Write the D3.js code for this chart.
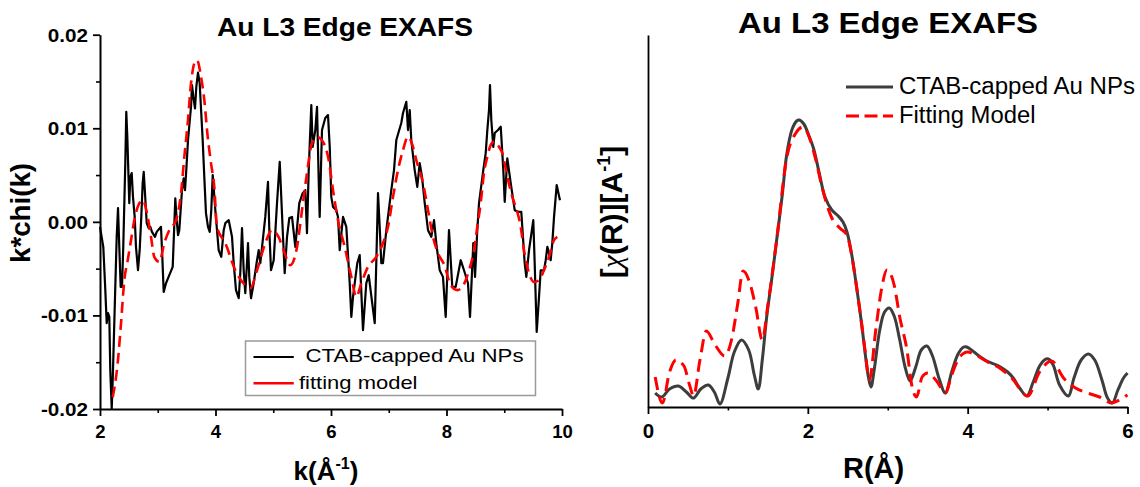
<!DOCTYPE html>
<html><head><meta charset="utf-8">
<script src="https://cdn.jsdelivr.net/npm/d3@7"></script>
<style>
body{margin:0;background:#fff}
svg{display:block}
text{font-family:"Liberation Sans",Arial,sans-serif;fill:#000}
</style>
</head><body>
<svg id="c" width="1140" height="487"></svg>
<script>
// ---------- Left panel: k*chi(k) ----------
const kData = [2.000,2.057,2.092,2.116,2.139,2.161,2.178,2.203,2.220,2.260,2.289,2.312,2.334,2.358,2.381,2.403,2.438,2.455,2.473,2.507,2.525,2.549,2.571,2.601,2.623,2.658,2.687,2.715,2.739,2.757,2.779,2.809,2.843,2.871,2.900,2.952,2.982,3.056,3.079,3.103,3.143,3.200,3.259,3.304,3.328,3.351,3.373,3.420,3.449,3.472,3.494,3.524,3.576,3.593,3.616,3.645,3.668,3.697,3.726,3.778,3.806,3.835,3.870,3.900,3.927,3.952,3.997,4.055,4.100,4.142,4.170,4.229,4.286,4.315,4.355,4.402,4.429,4.459,4.488,4.516,4.545,4.563,4.585,4.615,4.661,4.719,4.748,4.776,4.862,4.909,4.932,4.961,5.008,5.065,5.112,5.164,5.198,5.238,5.278,5.325,5.382,5.451,5.510,5.555,5.584,5.614,5.659,5.683,5.728,5.758,5.787,5.804,5.844,5.901,5.948,5.978,6.005,6.035,6.092,6.121,6.151,6.208,6.265,6.324,6.352,6.381,6.455,6.497,6.554,6.611,6.653,6.757,6.784,6.814,6.843,6.871,6.900,6.958,7.044,7.091,7.131,7.217,7.247,7.304,7.333,7.363,7.390,7.449,7.494,7.536,7.576,7.623,7.680,7.737,7.784,7.823,7.882,7.939,7.986,8.043,8.100,8.159,8.246,8.303,8.372,8.407,8.464,8.494,8.533,8.563,8.637,8.679,8.707,8.736,8.753,8.776,8.810,8.835,8.892,8.939,8.984,9.008,9.053,9.112,9.181,9.238,9.295,9.354,9.382,9.429,9.503,9.527,9.562,9.602,9.631,9.688,9.718,9.746,9.804,9.832,9.862,9.908,9.965];
const chiData = [-0.00053,-0.00267,-0.00730,-0.01083,-0.00976,-0.01016,-0.01586,-0.01993,-0.01693,-0.00802,-0.00160,0.00147,-0.00267,-0.00695,-0.00695,-0.00267,0.00628,0.01176,0.00909,0.00200,0.00481,0.00521,0.00267,0.00053,-0.00267,-0.00517,-0.00303,0.00053,0.00414,0.00535,0.00307,-0.00014,-0.00067,-0.00053,-0.00107,-0.00160,-0.00107,-0.00053,-0.00374,-0.00749,-0.00656,-0.00570,-0.00481,0.00250,0.00018,-0.00142,-0.00089,0.00339,0.00464,0.00339,0.00553,0.00874,0.01230,0.01462,0.01337,0.01213,0.01444,0.01594,0.01480,0.00874,0.00481,0.00093,-0.00053,-0.00107,0.00125,0.00499,0.00125,-0.00303,-0.00374,-0.00089,-0.00014,0.00018,-0.00160,-0.00442,-0.00730,-0.00816,-0.00549,-0.00067,-0.00517,-0.00763,-0.00442,-0.00228,-0.00591,-0.00816,-0.00656,-0.00410,-0.00303,-0.00442,0.00053,0.00428,-0.00089,-0.00517,-0.00410,0.00200,0.00642,-0.00089,-0.00549,-0.00164,0.00040,0.00053,-0.00267,0.00200,0.00307,0.00339,-0.00121,0.00553,0.01248,0.00802,0.00981,0.01230,0.00446,0.00053,0.00981,0.01109,0.01141,0.00802,0.00267,0.00160,0.00125,0.00053,-0.00303,0.00053,-0.00053,-0.00656,-0.01016,-0.00802,-0.00442,-0.00356,-0.01158,-0.00656,-0.00570,-0.01083,-0.00442,0.00307,-0.00053,-0.00442,-0.00442,-0.00089,0.00339,0.00553,0.00874,0.01056,0.01163,0.01283,0.00981,0.01195,0.00874,0.00553,0.00374,0.00628,0.00481,0.00200,-0.00089,-0.00160,0.00018,-0.00228,-0.00517,-0.00588,-0.01016,-0.00089,-0.00695,-0.00695,-0.00410,-0.00517,-0.00656,-0.01016,-0.00228,-0.00588,-0.00089,0.00200,0.00553,0.00735,0.00981,0.01195,0.01462,0.01088,0.00802,0.00949,0.00981,0.01016,0.00553,0.00214,0.00678,0.00414,0.00125,0.00107,0.00107,-0.00442,-0.00588,-0.00303,0.00018,-0.00442,-0.01176,-0.00802,-0.00517,-0.00517,-0.00410,-0.00267,-0.00410,-0.00228,0.00053,0.00393,0.00232];
const kFit = [2.220,2.306,2.364,2.421,2.480,2.537,2.594,2.653,2.739,2.826,2.883,2.940,3.027,3.113,3.200,3.316,3.403,3.460,3.519,3.576,3.633,3.680,3.749,3.806,3.865,3.922,3.979,4.026,4.170,4.343,4.516,4.603,4.719,4.862,4.978,5.094,5.180,5.295,5.411,5.498,5.584,5.671,5.758,5.874,5.960,6.035,6.121,6.237,6.352,6.438,6.525,6.641,6.784,6.900,6.987,7.074,7.160,7.247,7.333,7.420,7.477,7.593,7.680,7.766,7.853,7.964,8.073,8.187,8.274,8.390,8.476,8.533,8.592,8.649,8.707,8.765,8.823,8.909,8.966,9.053,9.139,9.226,9.285,9.342,9.429,9.515,9.602,9.688,9.775,9.861,9.919];
const chiFit = [-0.01875,-0.01511,-0.01083,-0.00624,-0.00410,-0.00196,0.00018,0.00160,0.00232,0.00053,-0.00160,-0.00374,-0.00428,-0.00228,-0.00089,0.00018,0.00307,0.00695,0.01056,0.01480,0.01694,0.01729,0.01551,0.01302,0.00909,0.00628,0.00374,-0.00057,-0.00228,-0.00517,-0.00677,-0.00709,-0.00517,-0.00228,-0.00089,-0.00164,-0.00303,-0.00463,-0.00271,0.00125,0.00521,0.00842,0.00909,0.00842,0.00660,0.00339,0.00018,-0.00267,-0.00588,-0.00802,-0.00656,-0.00481,-0.00374,-0.00228,-0.00053,0.00267,0.00553,0.00767,0.00909,0.00802,0.00660,0.00414,0.00125,-0.00160,-0.00335,-0.00463,-0.00677,-0.00730,-0.00695,-0.00517,-0.00303,-0.00053,0.00200,0.00521,0.00695,0.00820,0.00856,0.00802,0.00735,0.00481,0.00267,0.00107,-0.00053,-0.00303,-0.00549,-0.00642,-0.00624,-0.00517,-0.00374,-0.00196,-0.00160];
const leftXTicks = [2,4,6,8,10];
const leftXMinor = [3,5,7,9];
const leftYTicks = [-0.02,-0.01,0,0.01,0.02];
const leftYMinor = [-0.015,-0.005,0.005,0.015];
const leftYLabels = ["-0.02","-0.01","0.00","0.01","0.02"];

// ---------- Right panel: |chi(R)| ----------
const rData = [0.09,0.17,0.27,0.38,0.48,0.57,0.66,0.755,0.83,0.90,1.0,1.08,1.17,1.26,1.33,1.38,1.43,1.485,1.55,1.61,1.68,1.735,1.80,1.86,1.894,1.95,2.01,2.07,2.14,2.215,2.30,2.38,2.44,2.49,2.55,2.61,2.67,2.72,2.76,2.79,2.83,2.90,2.96,3.02,3.08,3.15,3.22,3.28,3.35,3.42,3.49,3.56,3.64,3.72,3.80,3.88,3.95,3.99,4.08,4.16,4.24,4.33,4.41,4.50,4.57,4.65,4.74,4.82,4.90,4.96,5.01,5.07,5.15,5.26,5.33,5.42,5.51,5.59,5.68,5.75,5.81,5.88,5.95,6.00];
const ftData = [0.14,0.10,0.18,0.21,0.15,0.09,0.18,0.22,0.15,0.03,0.29,0.55,0.67,0.57,0.32,0.18,0.47,0.90,1.29,1.67,2.12,2.52,2.77,2.86,2.87,2.83,2.72,2.59,2.35,2.10,1.97,1.91,1.85,1.75,1.52,1.20,0.85,0.52,0.29,0.20,0.37,0.77,0.95,0.99,0.91,0.67,0.39,0.26,0.40,0.57,0.61,0.51,0.29,0.14,0.35,0.53,0.60,0.60,0.55,0.50,0.46,0.43,0.40,0.35,0.29,0.19,0.11,0.25,0.41,0.47,0.48,0.42,0.22,0.11,0.29,0.47,0.53,0.47,0.27,0.09,0.04,0.17,0.29,0.34];
const rFit = [0.09,0.18,0.27,0.35,0.45,0.52,0.57,0.65,0.73,0.84,0.96,1.05,1.12,1.19,1.27,1.35,1.43,1.50,1.61,1.735,1.85,1.94,2.03,2.10,2.18,2.30,2.40,2.49,2.55,2.61,2.67,2.72,2.77,2.85,2.92,2.99,3.08,3.15,3.24,3.30,3.36,3.43,3.50,3.62,3.72,3.80,3.90,4.00,4.10,4.25,4.40,4.55,4.75,4.90,5.05,5.20,5.35,5.50,5.65,5.80,5.90,6.00];
const ftFit = [0.30,0.04,0.35,0.47,0.41,0.22,0.11,0.47,0.76,0.62,0.51,0.69,1.02,1.36,1.25,0.99,0.67,1.02,1.67,2.49,2.74,2.80,2.67,2.47,2.19,1.89,1.79,1.72,1.51,1.20,0.85,0.54,0.27,0.77,1.17,1.37,1.22,0.90,0.57,0.22,0.10,0.30,0.34,0.25,0.14,0.32,0.50,0.55,0.52,0.45,0.39,0.29,0.11,0.35,0.46,0.29,0.19,0.14,0.10,0.04,0.07,0.12];
const rightXTicks = [0,2,4,6];
const rightXMinor = [1,3,5];

const svg = d3.select("#c");
function stretch(sel, f){
  sel.each(function(){
    const L = this.getComputedTextLength();
    this.setAttribute("textLength", (L*f).toFixed(1));
    this.setAttribute("lengthAdjust","spacingAndGlyphs");
  });
}

// ===== LEFT =====
const xL = d3.scaleLinear().domain([2,10]).range([100,562]);
const yL = d3.scaleLinear().domain([-0.02,0.02]).range([409,34.7]);

const gL = svg.append("g");
gL.append("g").attr("transform","translate(0,409)")
  .call(d3.axisBottom(xL).tickValues(leftXMinor).tickSize(4).tickFormat("").tickSizeOuter(0))
  .call(g=>g.select(".domain").remove())
  .selectAll("line").attr("stroke","#000").attr("stroke-width",1.6);
gL.append("g").attr("transform","translate(100,0)")
  .call(d3.axisLeft(yL).tickValues(leftYMinor).tickSize(4).tickFormat("").tickSizeOuter(0))
  .call(g=>g.select(".domain").remove())
  .selectAll("line").attr("stroke","#000").attr("stroke-width",1.6);

const axBL = gL.append("g").attr("transform","translate(0,409)")
  .call(d3.axisBottom(xL).tickValues(leftXTicks).tickSize(7).tickSizeOuter(0).tickFormat(d3.format("d")));
axBL.select(".domain").attr("stroke-width",2);
axBL.selectAll("line").attr("stroke-width",1.8);
axBL.selectAll("text").attr("y",29).attr("dy",null)
  .style("font-size","18.5px").style("font-weight","bold");

const axLL = gL.append("g").attr("transform","translate(100,0)")
  .call(d3.axisLeft(yL).tickValues(leftYTicks).tickSize(7).tickSizeOuter(0)
    .tickFormat((d,i)=>leftYLabels[i]));
axLL.select(".domain").attr("stroke-width",2);
axLL.selectAll("line").attr("stroke-width",1.8);
axLL.selectAll("text").attr("x",-12).attr("dy","0.36em")
  .style("font-size","17.5px").style("font-weight","bold");
stretch(axLL.selectAll("text"),1.18);

const lineL = d3.line().x((d,i)=>xL(kData[i])).y((d,i)=>yL(chiData[i]));
gL.append("path").datum(chiData).attr("d",lineL)
  .attr("fill","none").attr("stroke","#000").attr("stroke-width",2.2).attr("stroke-linejoin","round");
const fitL = d3.line().x((d,i)=>xL(kFit[i])).y((d,i)=>yL(chiFit[i])).curve(d3.curveMonotoneX);
gL.append("path").datum(chiFit).attr("d",fitL)
  .attr("fill","none").attr("stroke","#ff0000").attr("stroke-width",2.6)
  .attr("stroke-dasharray","11,6");

gL.append("text").attr("x",345).attr("y",36).attr("text-anchor","middle")
  .style("font-size","25px").style("font-weight","bold")
  .attr("textLength",256).attr("lengthAdjust","spacingAndGlyphs")
  .text("Au L3 Edge EXAFS");
gL.append("text").attr("transform","translate(30,213) rotate(-90)").attr("text-anchor","middle")
  .style("font-size","28px").style("font-weight","bold")
  .attr("textLength",100).attr("lengthAdjust","spacingAndGlyphs")
  .text("k*chi(k)");
const xlabL = gL.append("text").attr("transform","translate(326,480)").attr("text-anchor","middle")
  .style("font-size","26px").style("font-weight","bold");
xlabL.append("tspan").text("k(Å");
xlabL.append("tspan").attr("dy",-11).style("font-size","16px").text("-1");
xlabL.append("tspan").attr("dy",11).text(")");

const lgL = gL.append("g");
lgL.append("rect").attr("x",245.5).attr("y",341).attr("width",290).attr("height",54.5)
  .attr("fill","#fff").attr("stroke","#9a9a9a").attr("stroke-width",1.5);
lgL.append("line").attr("x1",253.5).attr("x2",293.8).attr("y1",357).attr("y2",357)
  .attr("stroke","#000").attr("stroke-width",2.2);
lgL.append("line").attr("x1",253.5).attr("x2",293.8).attr("y1",383.3).attr("y2",383.3)
  .attr("stroke","#ff0000").attr("stroke-width",2.6);
lgL.append("text").attr("x",305.5).attr("y",362.3).style("font-size","18.6px")
  .attr("textLength",218).attr("lengthAdjust","spacingAndGlyphs").text("CTAB-capped Au NPs");
lgL.append("text").attr("x",299).attr("y",388.5).style("font-size","18.6px")
  .attr("textLength",118.5).attr("lengthAdjust","spacingAndGlyphs").text("fitting model");

// ===== RIGHT =====
const xR = d3.scaleLinear().domain([0,6]).range([648,1127.5]);
const yR = d3.scaleLinear().domain([0,3.72]).range([407,35]);
const gR = svg.append("g");

gR.append("g").attr("transform","translate(0,407)")
  .call(d3.axisBottom(xR).tickValues(rightXMinor).tickSize(3.5).tickFormat("").tickSizeOuter(0))
  .call(g=>g.select(".domain").remove())
  .selectAll("line").attr("stroke","#000").attr("stroke-width",1.6);
const axBR = gR.append("g").attr("transform","translate(0,407)")
  .call(d3.axisBottom(xR).tickValues(rightXTicks).tickSize(7).tickSizeOuter(0).tickFormat(d3.format("d")));
axBR.select(".domain").attr("stroke-width",1.8);
axBR.selectAll("line").attr("stroke-width",1.8);
axBR.selectAll("text").attr("y",31).attr("dy",null)
  .style("font-size","20.5px").style("font-weight","bold");
const axLR = gR.append("g").attr("transform","translate(648,0)")
  .call(d3.axisLeft(yR).tickValues([]).tickSizeOuter(0));
axLR.select(".domain").attr("stroke-width",1.8);

const lineR = d3.line().x((d,i)=>xR(rData[i])).y((d,i)=>yR(ftData[i])).curve(d3.curveCatmullRom.alpha(0.5));
gR.append("path").datum(ftData).attr("d",lineR)
  .attr("fill","none").attr("stroke","#3d3d3d").attr("stroke-width",3);
const fitR = d3.line().x((d,i)=>xR(rFit[i])).y((d,i)=>yR(ftFit[i])).curve(d3.curveMonotoneX);
gR.append("path").datum(ftFit).attr("d",fitR)
  .attr("fill","none").attr("stroke","#ff0000").attr("stroke-width",3)
  .attr("stroke-dasharray","13,7");

gR.append("text").attr("x",888).attr("y",33.3).attr("text-anchor","middle")
  .style("font-size","29px").style("font-weight","bold")
  .attr("textLength",300).attr("lengthAdjust","spacingAndGlyphs")
  .text("Au L3 Edge EXAFS");
const ylabR = gR.append("text").attr("transform","translate(622,212) rotate(-90)").attr("text-anchor","middle")
  .style("font-size","30px").style("font-weight","bold");
ylabR.append("tspan").text("[");
ylabR.append("tspan").style("font-family","'Liberation Serif',serif").style("font-weight","normal").style("font-style","italic").text("χ");
ylabR.append("tspan").text("(R)][A");
ylabR.append("tspan").attr("dy",-12).style("font-size","18px").text("-1");
ylabR.append("tspan").attr("dy",12).text("]");
gR.append("text").attr("x",873.6).attr("y",478).attr("text-anchor","middle")
  .style("font-size","29px").style("font-weight","bold").text("R(Å)");

const lgR = gR.append("g");
lgR.append("line").attr("x1",846).attr("x2",893).attr("y1",87).attr("y2",87)
  .attr("stroke","#3d3d3d").attr("stroke-width",3);
lgR.append("line").attr("x1",846).attr("x2",893).attr("y1",116).attr("y2",116)
  .attr("stroke","#ff0000").attr("stroke-width",3).attr("stroke-dasharray","13,5.5");
lgR.append("text").attr("x",899).attr("y",94).style("font-size","23px")
  .attr("textLength",236).attr("lengthAdjust","spacingAndGlyphs").text("CTAB-capped Au NPs");
lgR.append("text").attr("x",899).attr("y",122.7).style("font-size","23px")
  .attr("textLength",136.5).attr("lengthAdjust","spacingAndGlyphs").text("Fitting Model");
</script>
</body></html>
